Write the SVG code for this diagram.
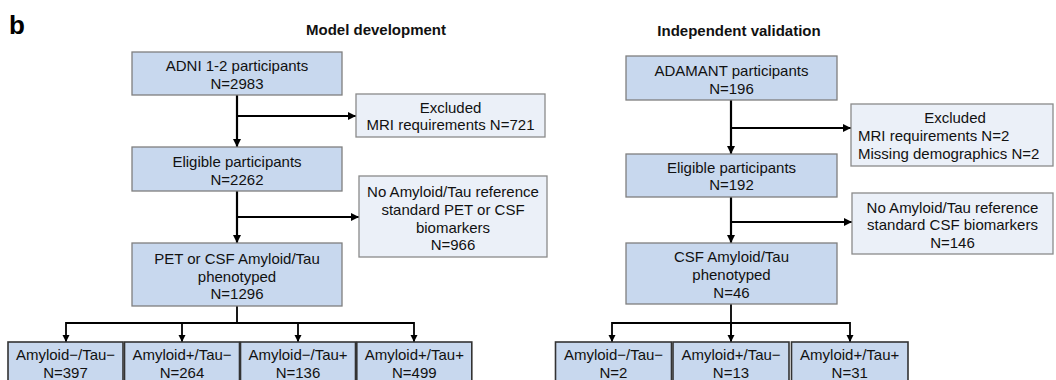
<svg xmlns="http://www.w3.org/2000/svg" width="1056" height="380" viewBox="0 0 1056 380">
<style>
.t{font-family:"Liberation Sans",Arial,sans-serif;font-size:15px;fill:#111;text-anchor:middle}
.l{text-anchor:start}
.h{font-family:"Liberation Sans",Arial,sans-serif;font-weight:bold;font-size:15px;fill:#111;text-anchor:middle}
.b{font-family:"Liberation Sans",Arial,sans-serif;font-weight:bold;font-size:26px;fill:#000}
.main{fill:#c8d8ee;stroke:#7f7f7f;stroke-width:1.3}
.exc{fill:#ebf0f8;stroke:#8a8a8a;stroke-width:1.3}
.leaf{fill:#c8d8ee;stroke:#333;stroke-width:1.6}
.c{fill:none;stroke:#000;stroke-width:2.2}
.c2{fill:none;stroke:#000;stroke-width:1.8}
</style>
<defs>
<marker id="ah" markerUnits="userSpaceOnUse" markerWidth="10" markerHeight="10" refX="8" refY="4" orient="auto">
<path d="M0,0 L8,4 L0,8 Z" fill="#000"/>
</marker>
<marker id="as" markerUnits="userSpaceOnUse" markerWidth="10" markerHeight="10" refX="7" refY="3.5" orient="auto">
<path d="M0,0 L7,3.5 L0,7 Z" fill="#000"/>
</marker>
</defs>

<text class="b" x="9" y="34">b</text>
<text class="h" x="376" y="35">Model development</text>
<text class="h" x="739" y="36">Independent validation</text>

<g id="connectors">
<path class="c" d="M237,95 V147" marker-end="url(#ah)"/>
<path class="c" d="M237,116 H356" marker-end="url(#ah)"/>
<path class="c" d="M237,191 V243" marker-end="url(#ah)"/>
<path class="c" d="M237,217 H359" marker-end="url(#ah)"/>
<path class="c2" d="M237,306 V323 M66,323 H414"/>
<path class="c2" d="M66,322 V342" marker-end="url(#as)"/>
<path class="c2" d="M182,323 V342" marker-end="url(#as)"/>
<path class="c2" d="M298,323 V342" marker-end="url(#as)"/>
<path class="c2" d="M414,322 V342" marker-end="url(#as)"/>

<path class="c" d="M731,100 V154" marker-end="url(#ah)"/>
<path class="c" d="M731,128 H851" marker-end="url(#ah)"/>
<path class="c" d="M731,197 V243" marker-end="url(#ah)"/>
<path class="c" d="M731,222 H852" marker-end="url(#ah)"/>
<path class="c2" d="M731,304 V342 M612,323 H850"/>
<path class="c2" d="M612,322 V342" marker-end="url(#as)"/>
<path class="c2" d="M731,323 V342" marker-end="url(#as)"/>
<path class="c2" d="M850,322 V342" marker-end="url(#as)"/>
</g>

<g id="adni">
<rect class="main" x="132" y="52" width="210" height="43"/>
<text class="t" x="237" y="71">ADNI 1-2 participants</text>
<text class="t" x="237" y="88.5">N=2983</text>
</g>
<g id="excluded-left">
<rect class="exc" x="356" y="94" width="189" height="43"/>
<text class="t" x="450.5" y="113">Excluded</text>
<text class="t" x="450.5" y="130">MRI requirements N=721</text>
</g>
<g id="eligible-left">
<rect class="main" x="132" y="147" width="210" height="44"/>
<text class="t" x="237" y="167">Eligible participants</text>
<text class="t" x="237" y="184.5">N=2262</text>
</g>
<g id="noref-left">
<rect class="exc" x="359" y="176" width="188" height="81"/>
<text class="t" x="453" y="196.5">No Amyloid/Tau reference</text>
<text class="t" x="453" y="214.5">standard PET or CSF</text>
<text class="t" x="453" y="232.5">biomarkers</text>
<text class="t" x="453" y="250">N=966</text>
</g>
<g id="pheno-left">
<rect class="main" x="132" y="243" width="210" height="63"/>
<text class="t" x="237" y="264">PET or CSF Amyloid/Tau</text>
<text class="t" x="237" y="281.5">phenotyped</text>
<text class="t" x="237" y="299">N=1296</text>
</g>
<g id="l-aneg-tneg">
<rect class="leaf" x="8" y="342" width="115" height="46"/>
<text class="t" x="65.5" y="360">Amyloid−/Tau−</text>
<text class="t" x="65.5" y="378">N=397</text>
</g>
<g id="l-apos-tneg">
<rect class="leaf" x="124.5" y="342" width="115" height="46"/>
<text class="t" x="182" y="360">Amyloid+/Tau−</text>
<text class="t" x="182" y="378">N=264</text>
</g>
<g id="l-aneg-tpos">
<rect class="leaf" x="240.5" y="342" width="115" height="46"/>
<text class="t" x="298" y="360">Amyloid−/Tau+</text>
<text class="t" x="298" y="378">N=136</text>
</g>
<g id="l-apos-tpos">
<rect class="leaf" x="356.8" y="342" width="115" height="46"/>
<text class="t" x="414.3" y="360">Amyloid+/Tau+</text>
<text class="t" x="414.3" y="378">N=499</text>
</g>

<g id="adamant">
<rect class="main" x="626" y="56" width="211" height="44"/>
<text class="t" x="731.5" y="76">ADAMANT participants</text>
<text class="t" x="731.5" y="93.5">N=196</text>
</g>
<g id="excluded-right">
<rect class="exc" x="851" y="104" width="202" height="62"/>
<text class="t" x="955" y="123">Excluded</text>
<text class="t l" x="858" y="141">MRI requirements N=2</text>
<text class="t l" x="858" y="159">Missing demographics N=2</text>
</g>
<g id="eligible-right">
<rect class="main" x="626" y="154" width="211" height="43"/>
<text class="t" x="731.5" y="172.5">Eligible participants</text>
<text class="t" x="731.5" y="190">N=192</text>
</g>
<g id="noref-right">
<rect class="exc" x="852" y="193" width="201" height="61"/>
<text class="t" x="952.5" y="212.5">No Amyloid/Tau reference</text>
<text class="t" x="952.5" y="230">standard CSF biomarkers</text>
<text class="t" x="952.5" y="248">N=146</text>
</g>
<g id="pheno-right">
<rect class="main" x="626" y="243" width="211" height="61"/>
<text class="t" x="731.5" y="262">CSF Amyloid/Tau</text>
<text class="t" x="731.5" y="280">phenotyped</text>
<text class="t" x="731.5" y="297.5">N=46</text>
</g>
<g id="r-aneg-tneg">
<rect class="leaf" x="555.5" y="342" width="116" height="46"/>
<text class="t" x="613.5" y="360">Amyloid−/Tau−</text>
<text class="t" x="613.5" y="378">N=2</text>
</g>
<g id="r-apos-tneg">
<rect class="leaf" x="673" y="342" width="116" height="46"/>
<text class="t" x="731" y="360">Amyloid+/Tau−</text>
<text class="t" x="731" y="378">N=13</text>
</g>
<g id="r-apos-tpos">
<rect class="leaf" x="791.5" y="342" width="116.5" height="46"/>
<text class="t" x="849.7" y="360">Amyloid+/Tau+</text>
<text class="t" x="849.7" y="378">N=31</text>
</g>
</svg>
